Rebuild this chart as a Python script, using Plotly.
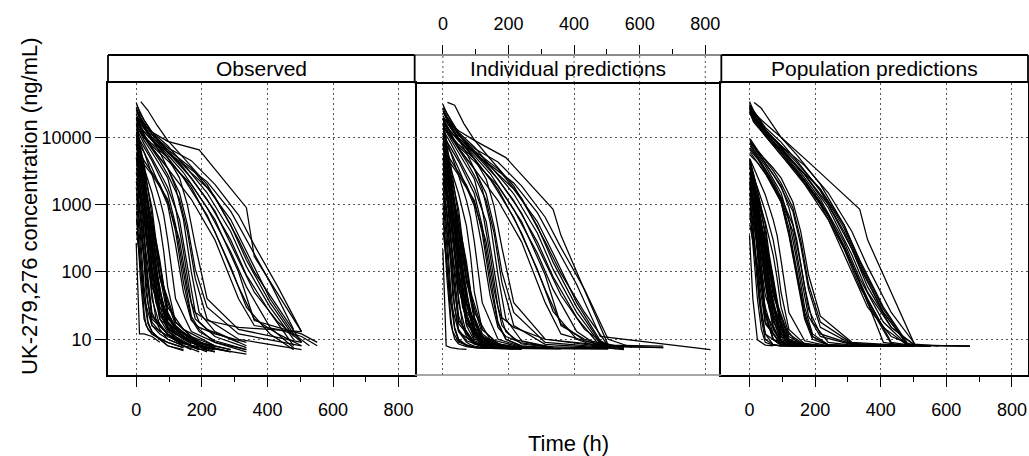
import plotly.graph_objects as go

# ---------------- data ----------------
PANEL_TITLES = ["Observed", "Individual predictions", "Population predictions"]
X_TICKS = [0, 200, 400, 600, 800]
Y_TICKS = [10, 100, 1000, 10000]
Y_TICK_TEXT = ["10", "100", "1000", "10000"]

# fast-declining subjects
FAST_T = [
    [1, 6, 12, 24, 36, 48, 72, 96, 144, 192, 240],
    [1, 6, 12, 24, 36, 48, 72, 96, 144, 192, 240],
    [1, 6, 12, 24, 36, 48, 72, 96, 144, 192, 288],
    [1, 6, 12, 24, 36, 48, 72, 96, 144, 240],
    [1, 6, 12, 24, 36, 48, 72, 96, 144, 192, 240, 336],
    [1, 6, 12, 24, 36, 48, 72, 96, 144],
    [2, 8, 24, 36, 48, 72, 120, 168, 216, 336],
    [2, 8, 24, 36, 48, 72, 120, 168, 216, 336],
    [2, 8, 24, 36, 48, 72, 120, 168, 264, 504],
    [2, 8, 24, 36, 48, 72, 120, 168, 216, 336],
    [2, 8, 24, 36, 48, 72, 120, 168, 216],
    [2, 8, 24, 36, 48, 72, 120, 168, 216, 408],
    [1, 4, 12, 24, 30, 48, 96, 144, 240],
    [1, 4, 12, 24, 30, 48, 96, 144, 240, 504],
    [1, 4, 12, 24, 30, 48, 96, 144, 240, 336],
    [1, 4, 12, 24, 30, 48, 96, 144, 240],
    [1, 4, 12, 24, 30, 48, 96, 144, 240],
    [0, 12, 24, 48, 60, 96, 120, 192, 288],
    [0, 12, 24, 48, 60, 96, 120, 192, 288],
    [0, 12, 24, 48, 60, 96, 120, 192, 360],
    [0, 12, 24, 48, 60, 96, 120, 192, 288],
    [1, 10, 24, 48, 72, 84, 96, 120, 168, 240, 336],
    [1, 10, 24, 48, 72, 84, 96, 120, 168, 240, 336],
    [1, 10, 24, 48, 72, 84, 96, 120, 168, 240, 336],
    [1, 10, 24, 48, 72, 84, 96, 120, 168, 240],
    [0, 10, 24, 48, 72],
    [1, 6, 12, 24, 36, 48, 72, 96, 168, 240],
    [2, 8, 24, 36, 48, 72, 120, 168, 216],
    [0, 12, 24, 48, 60, 96, 120, 192],
    [1, 4, 12, 24, 30, 48, 96, 144, 240],
    [1, 6, 12, 24, 36, 48, 72, 96, 144, 240],
    [2, 8, 24, 36, 48, 72, 120, 168, 216, 288],
    [1, 4, 12, 24, 30, 48, 96, 144, 192],
    [0, 12, 24, 48, 60, 96, 120, 192, 288, 504],
    [1, 10, 24, 48, 72, 84, 96, 120, 168, 240],
    [1, 6, 12, 24, 36, 48, 72, 96, 144, 192],
]
FAST_OBS = [
    [12000, 7000, 4000, 1200, 250, 40, 16, 12, 8, None, None],
    [3500, 2200, 1300, 350, 80, 25, 14, 10, 8, 6.5, None],
    [7000, 5000, 3500, 1500, 500, 120, 20, 13, 9, 7, None],
    [1500, 900, 400, 60, 18, 13, 10, 8, 6.8, None],
    [9000, 6500, 4500, 2200, 900, 300, 40, 18, 11, 8, 6.5, None],
    [600, 300, 90, 20, 14, 12, 10, 9, 7.5],
    [9000, 6000, 2500, 900, 300, 40, 14, 9, 7, None],
    [4500, 3000, 1200, 400, 100, 22, 13, 9, 7.5, 6],
    [2200, 1600, 700, 250, 70, 20, 12, 8.5, None, None],
    [15000, 9000, 4000, 1800, 700, 90, 18, 11, 8, None],
    [1200, 700, 150, 35, 18, 13, 10, 8, 6.5],
    [5500, 4000, 2000, 1000, 400, 80, 16, 10, 7, None],
    [6000, 4500, 2000, 400, 120, 20, 12, 8, 6.5],
    [2500, 1800, 800, 150, 50, 16, 11, 8.5, 7, None],
    [10000, 8000, 5000, 2500, 1500, 500, 30, 14, 8, None],
    [800, 500, 150, 25, 16, 12, 9, 7.5, None],
    [4000, 3200, 1800, 600, 300, 60, 15, 10, 7.5],
    [5000, 2500, 1000, 200, 60, 15, 11, 7, None],
    [11000, 6000, 3000, 900, 300, 25, 15, 9, 7],
    [1800, 800, 300, 45, 20, 12, 9.5, 7.5, None],
    [3000, 1800, 900, 250, 100, 18, 12, 8, 6.5],
    [8000, 5500, 3500, 1500, 500, 200, 60, 18, 11, 8, None],
    [2000, 1400, 800, 250, 60, 25, 17, 12, 9, 7, None],
    [13000, 9000, 6000, 2800, 1200, 700, 300, 40, 13, 9, 7],
    [400, 150, 40, 16, 12, 11, 10, 9, 7, None],
    [270, 12, 12, 11, 9],
    [16000, 10000, 6000, 2500, 800, 200, 25, 14, 9, 7],
    [7500, 5000, 1800, 500, 120, 25, 13, 9, 6.8],
    [2200, 1300, 600, 100, 35, 14, 10, 7],
    [3000, 2400, 1500, 700, 450, 150, 18, 11, 7.5],
    [1000, 600, 250, 40, 17, 13, 10, 8, 7, None],
    [5000, 3500, 1500, 600, 200, 30, 15, 10, 8, 6.5],
    [1500, 1200, 700, 200, 90, 22, 12, 9, 7],
    [8000, 4000, 2000, 500, 180, 22, 14, 9, 7, None],
    [4500, 3000, 1800, 600, 150, 60, 25, 15, 10, 7.5],
    [20000, 12000, 7000, 3000, 1200, 400, 50, 20, 12, 8],
]
FAST_IPRED = [
    [11500, 7200, 3900, 1100, 230, 35, 12, 8.5, 7.6, 7.5, 7.5],
    [3400, 2300, 1250, 330, 75, 22, 11, 8.5, 7.6, 7.4, 7.3],
    [6800, 5100, 3400, 1400, 450, 100, 16, 9.5, 7.8, 7.5, 7.4],
    [1450, 880, 380, 55, 15, 10, 8.2, 7.6, 7.3, 7.2],
    [8800, 6600, 4400, 2100, 850, 280, 35, 13, 8.5, 7.6, 7.4, 7.3],
    [580, 290, 85, 17, 10, 8.5, 7.8, 7.5, 7.3],
    [8800, 6100, 2400, 850, 270, 35, 10, 7.8, 7.5, 7.4],
    [4400, 3100, 1150, 380, 95, 18, 9.5, 7.8, 7.5, 7.3],
    [2100, 1550, 680, 230, 65, 17, 9, 7.7, 7.4, 7.3],
    [14000, 9200, 3900, 1700, 650, 80, 14, 8.6, 7.6, 7.4],
    [1150, 680, 140, 30, 14, 9.5, 7.8, 7.4, 7.2],
    [5300, 4100, 1950, 950, 380, 70, 12, 8.2, 7.5, 7.3],
    [5800, 4400, 1900, 380, 110, 17, 9, 7.7, 7.3],
    [2400, 1750, 780, 140, 45, 13, 8.6, 7.6, 7.3, 7.2],
    [9800, 8100, 4900, 2400, 1450, 450, 25, 10, 7.6, 7.3],
    [780, 480, 140, 21, 13, 9, 7.6, 7.3, 7.2],
    [3900, 3150, 1750, 580, 280, 55, 11, 8.2, 7.5],
    [4900, 2400, 950, 180, 55, 12, 8.5, 7.5, 7.4],
    [10500, 6100, 2900, 850, 280, 21, 11, 7.8, 7.4],
    [1750, 780, 290, 40, 16, 8.8, 7.8, 7.3, 7.2],
    [2900, 1750, 870, 230, 90, 15, 9, 7.6, 7.3],
    [7800, 5600, 3400, 1450, 480, 180, 50, 14, 8.5, 7.6, 7.4],
    [1950, 1380, 780, 240, 55, 21, 13, 9, 7.7, 7.4, 7.3],
    [12500, 9100, 5900, 2700, 1150, 650, 280, 35, 10, 7.8, 7.4],
    [390, 140, 35, 13, 9, 8.3, 7.9, 7.6, 7.3, 7.2],
    [215, 8, 7.5, 7.2, 7.1],
    [15500, 10200, 5900, 2400, 760, 180, 21, 10, 7.7, 7.4],
    [7300, 5100, 1750, 470, 110, 21, 9.5, 7.7, 7.4],
    [2150, 1250, 580, 90, 30, 11, 8.2, 7.3],
    [2900, 2350, 1450, 680, 420, 140, 14, 8.5, 7.4],
    [980, 580, 240, 36, 14, 9.5, 8, 7.5, 7.3, 7.2],
    [4900, 3550, 1450, 570, 185, 26, 11, 8, 7.5, 7.3],
    [1450, 1180, 680, 190, 85, 19, 9, 7.6, 7.3],
    [7800, 4100, 1950, 470, 170, 19, 10, 7.6, 7.3, 7.2],
    [4400, 3050, 1750, 580, 140, 55, 21, 11, 8, 7.4],
    [19000, 12300, 6900, 2900, 1150, 380, 45, 15, 8.8, 7.6],
]
FAST_PRED = [
    [4500, 3000, 1800, 600, 120, 25, 10, 8.2, 8.0, 7.9, 7.9],
    [2000, 1500, 900, 300, 90, 25, 10, 8.3, 8.0, 7.9, 7.9],
    [3000, 2300, 1600, 700, 250, 70, 14, 9, 8.0, 7.9, 7.9],
    [1200, 800, 400, 80, 20, 10, 8.3, 8.0, 7.9, 7.9],
    [3800, 3000, 2200, 1100, 450, 150, 25, 10, 8.1, 7.9, 7.9, 7.9],
    [700, 450, 200, 40, 14, 9, 8.2, 8.0, 7.9],
    [3500, 2600, 1200, 500, 180, 30, 9, 8.0, 7.9, 7.9],
    [2500, 1800, 800, 300, 100, 22, 9, 8.0, 7.9, 7.9],
    [1800, 1300, 600, 220, 75, 18, 8.8, 8.0, 7.9, 7.9],
    [4500, 3400, 1700, 800, 300, 50, 11, 8.2, 7.9, 7.9],
    [1000, 700, 250, 70, 22, 10, 8.2, 8.0, 7.9],
    [3000, 2300, 1100, 550, 220, 45, 10, 8.1, 7.9, 7.9],
    [2500, 2000, 1100, 300, 120, 18, 8.5, 8.0, 7.9],
    [1800, 1400, 700, 180, 70, 17, 8.5, 8.0, 7.9, 7.9],
    [4000, 3300, 2200, 1100, 700, 250, 18, 9, 7.9, 7.9],
    [900, 700, 300, 70, 35, 12, 8.2, 8.0, 7.9],
    [2200, 1800, 1100, 400, 200, 45, 9.5, 8.1, 7.9],
    [3000, 1800, 900, 200, 70, 12, 8.5, 8.0, 7.9],
    [4200, 2800, 1600, 500, 180, 18, 9.5, 8.0, 7.9],
    [1500, 900, 400, 70, 28, 9.5, 8.2, 7.9, 7.9],
    [2200, 1500, 800, 250, 110, 16, 8.8, 8.0, 7.9],
    [3500, 2700, 1800, 800, 300, 140, 50, 14, 8.5, 7.9, 7.9],
    [1700, 1300, 800, 300, 80, 30, 14, 9, 8.0, 7.9, 7.9],
    [4800, 3800, 2700, 1400, 600, 350, 150, 25, 9.5, 8.0, 7.9],
    [500, 300, 120, 30, 12, 10, 9, 8.3, 8.0, 7.9],
    [350, 40, 9.8, 8.2, 8.0],
    [4600, 3500, 2400, 1000, 350, 90, 16, 9, 8.0, 7.9],
    [3200, 2400, 1000, 350, 110, 22, 9, 8.0, 7.9],
    [1800, 1200, 600, 130, 50, 11, 8.5, 7.9],
    [2000, 1700, 1100, 500, 320, 100, 12, 8.5, 7.9],
    [1100, 750, 380, 90, 28, 12, 8.3, 8.0, 7.9, 7.9],
    [2700, 2000, 1000, 450, 170, 32, 9.5, 8.1, 7.9, 7.9],
    [1400, 1150, 700, 230, 120, 25, 9, 8.0, 7.9],
    [3600, 2300, 1300, 400, 150, 16, 9, 8.0, 7.9, 7.9],
    [2600, 2000, 1300, 550, 180, 80, 30, 12, 8.3, 7.9],
    [4700, 3700, 2600, 1300, 550, 200, 30, 11, 8.2, 7.9],
]

# intermediate subjects
MED_T = [
    [1, 24, 48, 96, 120, 144, 168, 192, 240, 336],
    [1, 24, 48, 96, 120, 144, 168, 192, 240, 336],
    [1, 24, 48, 96, 120, 144, 168, 192, 240, 336],
    [1, 24, 48, 96, 120, 144, 168, 192, 240, 336],
    [2, 24, 72, 96, 132, 156, 180, 216, 312, 504],
    [2, 24, 72, 96, 132, 156, 180, 216, 312, 504],
    [2, 24, 72, 96, 132, 156, 180, 216, 312, 504],
    [2, 24, 72, 96, 132, 156, 180, 216, 312, 504],
    [1, 24, 48, 96, 120, 144, 168, 192, 240, 336],
    [2, 24, 72, 96, 132, 156, 180, 216, 312, 504],
]
MED_OBS = [
    [15000, 9000, 6000, 2500, 900, 200, 35, 18, 11, 7.5],
    [11000, 7000, 4500, 1500, 500, 100, 22, 14, 9, 6.5],
    [20000, 11000, 7000, 3500, 1800, 600, 100, 25, 13, 8],
    [9000, 6000, 3500, 1000, 250, 50, 19, 15, 12, 9],
    [13000, 8000, 3000, 1800, 600, 120, 25, 19, 15, 13],
    [17000, 10000, 4500, 2800, 1200, 400, 80, 20, 10, 7],
    [7000, 4500, 2000, 1100, 300, 60, 20, 14, 9, None],
    [24000, 14000, 6000, 3500, 1500, 500, 110, 30, 12, 8],
    [5500, 4000, 2800, 1200, 400, 70, 20, 13, 9.5, 7],
    [18000, 12000, 7000, 5000, 2500, 1000, 250, 40, 14, 9],
]
MED_IPRED = [
    [14500, 9200, 5900, 2400, 850, 180, 30, 13, 8.5, 7.5],
    [10800, 7100, 4400, 1450, 480, 90, 18, 10, 7.9, 7.3],
    [19000, 11500, 6900, 3400, 1700, 550, 90, 20, 9.5, 7.6],
    [8800, 6100, 3400, 950, 230, 45, 15, 11, 8.8, 7.6],
    [12500, 8200, 2900, 1750, 560, 110, 21, 15, 10, 8.0],
    [16500, 10200, 4400, 2700, 1150, 380, 70, 16, 8.4, 7.4],
    [6800, 4600, 1950, 1050, 280, 55, 16, 10, 7.8, 7.4],
    [23000, 14500, 5900, 3400, 1450, 470, 100, 25, 9, 7.5],
    [5400, 4050, 2750, 1150, 380, 65, 17, 10, 8.0, 7.4],
    [17500, 12200, 6900, 4800, 2400, 950, 230, 35, 10, 7.6],
]
MED_PRED = [
    [8000, 5500, 3800, 1500, 600, 150, 30, 12, 8.3, 7.9],
    [7000, 5000, 3300, 1200, 450, 110, 25, 11, 8.2, 7.9],
    [9000, 6200, 4200, 1900, 900, 300, 60, 18, 9, 7.9],
    [6500, 4800, 3100, 1100, 350, 80, 20, 10, 8.2, 7.9],
    [7500, 5200, 2200, 1300, 500, 130, 28, 12, 8.5, 7.9],
    [8500, 6000, 2800, 1800, 800, 250, 55, 15, 8.5, 7.9],
    [6000, 4300, 2000, 1200, 400, 90, 22, 11, 8.3, 7.9],
    [9500, 6500, 3200, 2100, 900, 300, 65, 18, 8.7, 7.9],
    [5500, 4200, 2900, 1100, 380, 90, 22, 11, 8.3, 7.9],
    [8500, 6300, 3500, 2500, 1100, 400, 90, 22, 9, 7.9],
]

# slowly declining subjects
SLOW_T = [
    [2, 48, 96, 192, 336, 360, 504, 672],
    [2, 24, 48, 96, 168, 240, 312, 360, 432, 504, 672],
    [2, 24, 48, 96, 168, 240, 312, 360, 432, 504],
    [2, 24, 48, 96, 168, 240, 312, 360, 432, 504, 552],
    [0, 12, 48, 96, 144, 216, 288, 336, 408, 480, 552],
    [0, 12, 48, 96, 144, 216, 288, 336, 408, 480, 552],
    [0, 12, 48, 96, 144, 216, 288, 336, 408, 480, 552],
    [2, 24, 48, 96, 168, 240, 312, 360, 432, 504, 552],
    [0, 12, 48, 96, 144, 216, 288, 336, 408, 480, 528],
    [2, 24, 48, 96, 168, 240, 312, 360, 432, 504, 672],
    [14, 36, 64, 96, 144, 216, 288, 336, 408, 480, 552],
    [0, 12, 48, 96, 144, 216, 288, 336, 408, 480],
    [2, 24, 48, 96, 168, 240, 312, 360, 432, 504, 576],
    [0, 12, 48, 96, 144, 216, 288, 336, 408, 480, 816],
]
SLOW_OBS = [
    [20000, 12000, 8700, 6500, 900, 170, 13, None],
    [30000, 18000, 12000, 6000, 2500, 800, 150, 50, 18, 9, None],
    [25000, 15000, 9000, 5000, 1800, 400, 60, 20, 12, 8],
    [18000, 11000, 7000, 3500, 1200, 300, 40, 16, 14, 11, 8],
    [33000, 22000, 12000, 7500, 4000, 1500, 400, 120, 30, 10, None],
    [22000, 16000, 9500, 5500, 3000, 900, 200, 60, 15, 7.5, None],
    [28000, 20000, 11000, 6500, 3500, 1200, 300, 90, 25, 8, None],
    [15000, 10000, 7500, 4500, 2000, 600, 100, 19, 15, 12, 9],
    [26000, 18000, 10000, 6000, 3800, 1800, 600, 200, 40, 12, 8],
    [20000, 14000, 10000, 6500, 3500, 1300, 300, 100, 30, 9, None],
    [34000, 25000, 15000, 9000, 5000, 2000, 500, 150, 35, 11, None],
    [16000, 12000, 8000, 5000, 2500, 700, 120, 30, 12, 7],
    [24000, 16000, 11000, 7000, 4500, 2000, 700, 250, 60, 13, None],
    [19000, 14000, 9000, 6000, 4000, 2200, 800, 300, 70, 14, None],
]
SLOW_IPRED = [
    [19000, 12500, 9000, 5000, 850, 350, 8.2, 7.9],
    [28000, 18500, 11500, 5800, 2400, 750, 140, 45, 14, 7.8, 7.5],
    [24000, 15500, 9200, 4800, 1700, 380, 55, 17, 9.5, 7.6],
    [17500, 11300, 6900, 3400, 1150, 280, 35, 12, 9.5, 8.0, 7.5],
    [31000, 22500, 11800, 7200, 3800, 1450, 380, 110, 25, 8.5, 7.4],
    [21000, 16500, 9300, 5300, 2900, 850, 190, 55, 13, 7.6, 7.0],
    [27000, 20500, 10800, 6300, 3400, 1150, 280, 85, 21, 7.8, 7.2],
    [14500, 10200, 7300, 4400, 1900, 560, 90, 16, 10, 8.2, 7.5],
    [25000, 18500, 9800, 5800, 3700, 1700, 560, 190, 35, 9.5, 7.2],
    [19500, 14200, 9800, 6300, 3400, 1250, 280, 95, 25, 8.0, 7.5],
    [33000, 30000, 16000, 9200, 4800, 1900, 480, 140, 30, 9, 7.5],
    [15500, 12200, 7800, 4800, 2400, 650, 110, 26, 10, 7.5],
    [23000, 16500, 10800, 6800, 4300, 1900, 650, 230, 55, 10, 7.6],
    [18500, 14200, 8800, 5800, 3900, 2100, 760, 280, 65, 11, 7.0],
]
SLOW_PRED = [
    [26000, 16000, 10000, 3800, 850, 300, 8.2, 7.9],
    [30000, 20000, 13000, 7000, 2800, 900, 180, 50, 15, 8.1, 7.9],
    [28000, 18000, 12000, 6000, 2300, 700, 130, 40, 9, 8.0],
    [25000, 16000, 10500, 5500, 2000, 600, 100, 30, 11, 8.0, 7.9],
    [34000, 25000, 14000, 8500, 4500, 1600, 400, 120, 25, 8.5, 7.9],
    [27000, 19000, 12000, 6500, 3300, 1100, 250, 70, 9, 8.0, 7.9],
    [30000, 21000, 13000, 7200, 3600, 1200, 280, 80, 18, 8.3, 7.9],
    [22000, 15000, 10500, 5500, 2200, 700, 130, 35, 8.5, 8.0, 7.9],
    [29000, 21000, 12500, 7500, 4200, 1700, 450, 130, 25, 8.5, 7.9],
    [26000, 17000, 11500, 6500, 2800, 1000, 220, 60, 15, 8.2, 7.9],
    [33000, 27000, 17000, 10000, 5500, 2000, 500, 140, 28, 8.5, 7.9],
    [24000, 17000, 10500, 6000, 3000, 1000, 220, 60, 15, 8.2],
    [28000, 19000, 13000, 7500, 3800, 1500, 400, 120, 25, 8.5, 7.9],
    [25000, 18000, 11000, 6500, 3800, 1700, 500, 150, 30, 9, None],
]

# ---------------- figure ----------------
FONT = "Liberation Sans, Arial, Helvetica, sans-serif"
ALL_T = FAST_T + MED_T + SLOW_T
PANEL_VALUES = [
    FAST_OBS + MED_OBS + SLOW_OBS,
    FAST_IPRED + MED_IPRED + SLOW_IPRED,
    FAST_PRED + MED_PRED + SLOW_PRED,
]

fig = go.Figure()
for k, values in enumerate(PANEL_VALUES):
    xa = "x" if k == 0 else f"x{k + 1}"
    ya = "y" if k == 0 else f"y{k + 1}"
    for t, v in zip(ALL_T, values):
        xs = [a for a, b in zip(t, v) if b is not None]
        ys = [b for b in v if b is not None]
        fig.add_trace(go.Scatter(
            x=xs, y=ys, mode="lines",
            line=dict(color="black", width=1.25),
            xaxis=xa, yaxis=ya, showlegend=False, hoverinfo="skip",
        ))

Y_TOP = 0.9125
X_RANGE = [-86, 849]
Y_RANGE = [0.469, 4.807]
GRID = dict(showgrid=True, gridcolor="#555555", gridwidth=1, griddash="2px,3px")
MINOR = dict(dtick=100, ticks="outside", ticklen=5, tickwidth=1.3,
             tickcolor="black", showgrid=False)
TICKFONT = dict(family=FONT, size=18, color="black")

def xaxis(domain, anchor, side="bottom", position=None):
    d = dict(domain=domain, anchor=anchor, side=side, range=X_RANGE,
             tickmode="linear", tick0=0, dtick=200, ticks="outside",
             ticklen=10, tickwidth=1.3, tickcolor="black", tickfont=TICKFONT,
             minor=MINOR, zeroline=False, ticklabelstandoff=7, **GRID)
    if position is not None:
        d["position"] = position
    return d

xa1 = xaxis([0, 1 / 3], "y")
xa1.update(showline=True, mirror=True, linecolor="black", linewidth=1.8)
xa2 = xaxis([1 / 3, 2 / 3], "free", side="top", position=1)
xa2.update(showline=True, linecolor="#8a8a8a", linewidth=1.5, ticklen=9,
           ticklabelstandoff=8)
xa3 = xaxis([2 / 3, 1], "y3")
xa3.update(showline=True, mirror=True, linecolor="black", linewidth=1.8)

def yaxis(anchor, labels, line=True):
    d = dict(domain=[0, Y_TOP], anchor=anchor, type="log", range=Y_RANGE,
             tickmode="array", tickvals=Y_TICKS, ticktext=Y_TICK_TEXT,
             showline=line, mirror=True, linecolor="black", linewidth=1.8,
             zeroline=False, tickfont=TICKFONT, **GRID)
    if labels:
        d.update(ticks="outside", ticklen=11, tickwidth=1.3, tickcolor="black")
    else:
        d.update(ticks="", showticklabels=False)
    return d

shapes = []
for i in range(4):
    shapes.append(dict(type="line", xref="paper", yref="paper",
                       x0=i / 3, x1=i / 3, y0=Y_TOP, y1=1,
                       line=dict(color="black", width=1.8)))
for i in (0, 2):
    shapes.append(dict(type="line", xref="paper", yref="paper",
                       x0=i / 3, x1=(i + 1) / 3, y0=1, y1=1,
                       line=dict(color="black", width=1.8)))
shapes.append(dict(type="line", xref="paper", yref="paper",
                   x0=1 / 3, x1=2 / 3, y0=Y_TOP, y1=Y_TOP,
                   line=dict(color="black", width=1.8)))
shapes.append(dict(type="line", xref="paper", yref="paper",
                   x0=1 / 3, x1=2 / 3, y0=0, y1=0,
                   line=dict(color="#8a8a8a", width=1.5)))
for xv in X_TICKS:
    shapes.append(dict(type="line", xref="x2", yref="paper",
                       x0=xv, x1=xv, y0=Y_TOP, y1=1, layer="below",
                       line=dict(color="#555555", width=1, dash="2px,3px")))

annotations = []
for i, title in enumerate(PANEL_TITLES):
    annotations.append(dict(text=title, xref="paper", yref="paper",
                            x=(i + 0.5) / 3, y=(Y_TOP + 1) / 2,
                            xanchor="center", yanchor="middle", showarrow=False,
                            font=dict(family=FONT, size=21, color="black")))
annotations.append(dict(text="Time (h)", xref="paper", yref="paper",
                        x=0.5, y=-0.2125, xanchor="center", yanchor="middle",
                        showarrow=False,
                        font=dict(family=FONT, size=22, color="black")))
annotations.append(dict(text="UK-279,276 concentration (ng/mL)", xref="paper",
                        yref="paper", x=-0.086, y=0.528, textangle=-90,
                        xanchor="center", yanchor="middle", showarrow=False,
                        font=dict(family=FONT, size=22, color="black")))

fig.update_layout(
    width=1029, height=456,
    margin=dict(l=108, r=1, t=55, b=81, autoexpand=False),
    paper_bgcolor="white", plot_bgcolor="white",
    font=dict(family=FONT, color="black"),
    xaxis=xa1, xaxis2=xa2, xaxis3=xa3,
    yaxis=yaxis("x", True), yaxis2=yaxis("x2", False, line=False),
    yaxis3=yaxis("x3", False),
    shapes=shapes, annotations=annotations,
)

fig.write_html(
    "out.html",
    config={"displayModeBar": False},
    post_script="document.body.style.margin='0';document.body.style.overflow='hidden';",
)
